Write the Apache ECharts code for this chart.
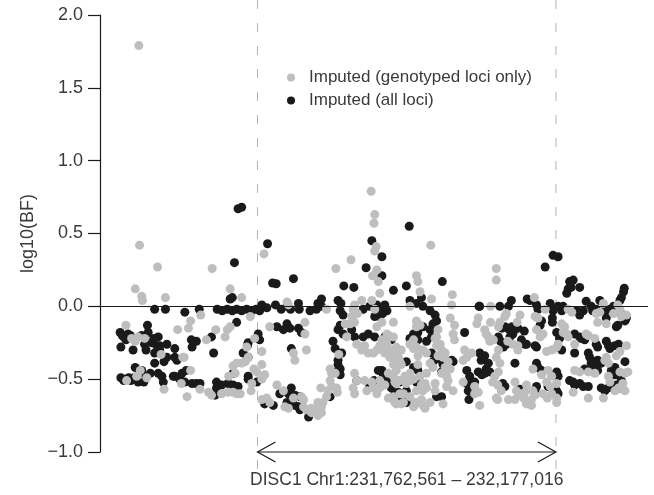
<!DOCTYPE html>
<html><head><meta charset="utf-8">
<script src="https://cdn.jsdelivr.net/npm/echarts@6/dist/echarts.min.js"></script>
<style>html,body{margin:0;padding:0;background:#fff}#c{width:654px;height:495px}</style>
</head><body><div id="c"></div>
<script>
// Position = kb from the start of the plotted window; value = log10(BF)
const genoName = 'Imputed (genotyped loci only)';
const allName = 'Imputed (all loci)';
const xMinKb = 0, xMaxKb = 762;
const yTicks = [-1.0, -0.5, 0.0, 0.5, 1.0, 1.5, 2.0];
const geneStartKb = 219, geneEndKb = 634;
const geneLabel = 'DISC1 Chr1:231,762,561 \u2013 232,177,016';

const genotyped = [
[54,1.79],[55,0.42],[80,0.27],[49,0.12],[58,0.07],[59,0.04],[91,0.06],[126,-0.10],[36,-0.13],[108,-0.16],[123,-0.15],[53,-0.21],[62,-0.22],[85,-0.33],[115,-0.35],[56,-0.44],[37,-0.51],[51,-0.48],[65,-0.49],[113,-0.53],[126,-0.44],[89,-0.57],[121,-0.62],[44,-0.22],[49,-0.24],
[156,0.26],[181,0.12],[197,0.06],[140,-0.06],[181,-0.14],[177,-0.16],[161,-0.16],[174,-0.21],[148,-0.23],[204,-0.28],[206,-0.35],[190,-0.39],[185,-0.41],[179,-0.48],[188,-0.46],[117,-0.35],[139,-0.57],[151,-0.59],[155,-0.61],[169,-0.60],[185,-0.59],[190,-0.60],[195,-0.60],
[228,0.36],[209,-0.07],[236,-0.14],[215,-0.22],[225,-0.31],[202,-0.38],[197,-0.39],[225,-0.40],[214,-0.43],[218,-0.45],[229,-0.47],[211,-0.53],[225,-0.50],[210,-0.58],[178,-0.59],[246,-0.54],[255,-0.58],[225,-0.64],[232,-0.63],[236,-0.66],[257,-0.69],
[377,0.79],[382,0.63],[381,0.57],[384,0.41],[460,0.42],[349,0.32],[328,0.26],[379,0.21],[260,0.03],[262,0.01],[315,-0.02],[354,0.01],[352,-0.02],[364,0.04],[358,-0.05],[350,-0.07],[378,0.04],[382,-0.02],[341,-0.12],[348,-0.12],[354,-0.11],[285,-0.11],[285,-0.19],[343,-0.21],[357,-0.26],[368,-0.27],[364,-0.30],[373,-0.32],[380,-0.32],[269,-0.32],[271,-0.37],[287,-0.30],[332,-0.33],[320,-0.43],[322,-0.46],[327,-0.46],[354,-0.46],[357,-0.51],[352,-0.56],[354,-0.60],[368,-0.51],[371,-0.58],[378,-0.52],[380,-0.56],[320,-0.51],[322,-0.55],[317,-0.58],[315,-0.62],[310,-0.66],[308,-0.69],[306,-0.71],[329,-0.56],[330,-0.59],[307,-0.56],[269,-0.63],[280,-0.62],[283,-0.64],[262,-0.70],[283,-0.69],[287,-0.71],[294,-0.70],[301,-0.71],[294,-0.73],[303,-0.75],[308,-0.73],[303,-0.66],
[382,0.38],[385,0.25],[387,0.17],[440,0.21],[442,0.17],[389,0.09],[445,0.10],[461,0.05],[490,0.08],[489,0.01],[543,0.00],[551,0.26],[431,0.00],
[470,-0.16],[468,-0.21],[473,-0.26],[475,-0.30],[477,-0.35],[480,-0.42],[475,-0.46],[482,-0.48],[440,-0.10],[445,-0.13],[436,-0.23],[440,-0.28],[449,-0.30],[454,-0.32],[459,-0.39],[463,-0.42],[454,-0.46],[445,-0.48],[452,-0.53],[440,-0.58],[449,-0.58],[431,-0.46],[426,-0.53],[422,-0.60],[431,-0.62],[442,-0.66],[449,-0.68],[459,-0.66],[466,-0.58],[482,-0.55],[405,-0.35],[408,-0.40],[412,-0.44],[419,-0.40],[392,-0.23],[399,-0.26],[403,-0.30],[408,-0.32],[394,-0.30],[412,-0.28],[399,-0.19],[403,-0.21],[385,-0.14],[392,-0.11],[408,-0.11],[412,-0.53],[417,-0.60],[408,-0.62],[412,-0.67],[422,-0.66],
[487,-0.08],[493,-0.13],[491,-0.19],[493,-0.23],[505,-0.37],[505,-0.52],[484,-0.51],[491,-0.58],[477,-0.67],[410,-0.66],[419,-0.67],[438,-0.66],[447,-0.64],[389,-0.51],[385,-0.60],[442,-0.34],[442,-0.40],[431,-0.26],[436,-0.29],[440,-0.14],[442,-0.12],[466,-0.22],[468,-0.27],[470,-0.34],[480,-0.32],[484,-0.38],[487,-0.43],[389,-0.27],[385,-0.30],[396,-0.32],[403,-0.35],[410,-0.32],[415,-0.35],[419,-0.30],[417,-0.38],[401,-0.20],[408,-0.21],
[401,-0.46],[408,-0.48],[410,-0.52],[417,-0.51],[424,-0.48],[431,-0.51],[436,-0.50],[447,-0.54],[454,-0.56],[466,-0.53],[396,-0.54],[389,-0.56],[401,-0.63],[408,-0.64],[436,-0.69],[452,-0.70],
[551,0.18],[604,0.06],[619,-0.02],[565,-0.05],[563,-0.07],[584,-0.06],[580,-0.11],[526,-0.08],[524,-0.12],[543,-0.11],[556,-0.11],[554,-0.14],[605,-0.07],[609,-0.08],[607,-0.16],[612,-0.21],[616,-0.19],[535,-0.16],[540,-0.21],[542,-0.24],[547,-0.23],[537,-0.19],[567,-0.24],[574,-0.26],[581,-0.27],[581,-0.30],[507,-0.30],[510,-0.35],[517,-0.32],[554,-0.30],[551,-0.35],[556,-0.39],[554,-0.45],[549,-0.48],[621,-0.31],[628,-0.30],[602,-0.43],[614,-0.47],[623,-0.44],[628,-0.48],[621,-0.52],[626,-0.55],[521,-0.55],[526,-0.59],[521,-0.60],[528,-0.68],[546,-0.52],[553,-0.54],[558,-0.58],[551,-0.63],[553,-0.64],[577,-0.52],[579,-0.58],[584,-0.60],[591,-0.59],[593,-0.54],[589,-0.63],[593,-0.67],[600,-0.68],[600,-0.64],[605,-0.61],[602,-0.58],[616,-0.60],[622,-0.63],[628,-0.60],[577,-0.64],[568,-0.64],
[700,0.02],[720,0.01],[723,-0.02],[651,-0.02],[656,-0.04],[690,-0.05],[695,-0.04],[714,-0.05],[725,-0.07],[732,-0.06],[692,-0.11],[704,-0.12],[642,-0.12],[646,-0.14],[649,-0.19],[651,-0.21],[644,-0.18],[637,-0.26],[635,-0.28],[660,-0.26],[676,-0.19],[679,-0.20],[688,-0.22],[732,-0.27],[723,-0.31],[718,-0.34],[704,-0.35],[702,-0.37],[707,-0.39],[660,-0.44],[667,-0.45],[679,-0.45],[688,-0.46],[723,-0.45],[730,-0.46],[734,-0.45],[707,-0.48],[709,-0.52],[727,-0.53],[730,-0.58],[716,-0.58],[721,-0.56],[658,-0.59],[679,-0.63],[700,-0.63],[635,-0.53],[635,-0.63],[635,-0.66]
];

const allLoci = [
[192,0.67],[197,0.68],[233,0.43],[187,0.30],[240,0.16],[245,0.155],[181,0.05],[184,0.06],[76,-0.02],[91,-0.02],[118,-0.04],[138,-0.02],
[163,-0.02],[170,-0.03],[177,-0.02],[184,-0.03],[190,-0.02],[197,-0.03],[204,-0.02],[211,-0.03],[217,-0.02],[222,-0.03],
[225,0.01],[232,-0.01],[244,0.01],[252,-0.02],[190,-0.11],[246,-0.14],[255,-0.16],[220,-0.19],[222,-0.23],[205,-0.27],[158,-0.32],[199,-0.32],[206,-0.35],[206,-0.50],[218,-0.52],[134,-0.53],[162,-0.52],[169,-0.54],[178,-0.53],[185,-0.54],[192,-0.55],[160,-0.61],[250,-0.60],[229,-0.67],[241,-0.68],
[28,-0.18],[33,-0.21],[39,-0.19],[29,-0.28],[66,-0.13],[46,-0.30],[67,-0.18],[81,-0.21],[72,-0.25],[83,-0.27],[64,-0.30],[76,-0.32],[93,-0.26],[76,-0.39],[89,-0.38],[104,-0.35],[107,-0.37],[104,-0.29],[49,-0.42],[58,-0.44],[70,-0.46],[81,-0.46],[86,-0.48],[29,-0.49],[33,-0.51],[43,-0.51],[53,-0.52],[47,-0.49],[88,-0.52],[104,-0.48],[114,-0.46],[118,-0.52],[128,-0.53],[120,-0.44],[127,-0.23],[134,-0.24],[155,-0.21],[206,-0.25],[206,-0.48],[102,-0.48],[111,-0.50],[139,-0.53],[185,-0.46],[162,-0.56],[83,-0.30],[93,-0.35],[128,-0.28],
[31,-0.20],[36,-0.23],[42,-0.20],[58,-0.20],[62,-0.26],[75,-0.22],[79,-0.27],[35,-0.50],[40,-0.49],[61,-0.52],[64,-0.48],
[378,0.45],[430,0.55],[370,0.265],[269,0.19],[339,0.14],[353,0.13],[276,0.02],[277,-0.02],[265,-0.02],[260,0.00],[292,-0.03],[301,-0.02],[308,0.00],[308,0.05],[303,0.02],[331,0.04],[335,0.02],[334,-0.03],[366,-0.02],[375,0.00],[380,0.01],[338,-0.06],[334,-0.13],[260,-0.12],[264,-0.15],[276,-0.15],[280,-0.18],[331,-0.16],[338,-0.19],[350,-0.16],[354,-0.21],[366,-0.21],[373,-0.19],[324,-0.24],[327,-0.29],[266,-0.29],[336,-0.32],[331,-0.37],[331,-0.40],[334,-0.43],[329,-0.45],[334,-0.47],[357,-0.51],[375,-0.55],[381,-0.51],[320,-0.62],[266,-0.56],[262,-0.60],[271,-0.61],[278,-0.62],[260,-0.66],[264,-0.67],[271,-0.68],[276,-0.69],[278,-0.71],[290,-0.76],[303,-0.71],[306,-0.70],
[392,0.34],[392,0.21],[408,0.11],[426,0.14],[476,0.17],[527,0.00],
[385,0.01],[390,-0.02],[396,0.01],[399,-0.03],[382,-0.07],[389,-0.07],[393,-0.05],
[431,0.04],[440,0.02],[449,0.00],[459,-0.03],[466,-0.06],[468,-0.10],[463,-0.12],[436,-0.19],[442,-0.18],[449,-0.14],[459,-0.16],[461,-0.21],[454,-0.24],[461,-0.32],[468,-0.36],[475,-0.37],[436,-0.42],[442,-0.44],[440,-0.52],[426,-0.66],[438,-0.67],[468,-0.62],[475,-0.62],[392,-0.44],[394,-0.47],[401,-0.48],[408,-0.50],[417,-0.52],[419,-0.63],[447,0.06],[403,-0.21],[405,-0.23],[396,-0.21],[382,-0.21],[431,-0.22],[442,-0.23],[463,-0.38],[477,-0.40],[475,-0.45],[489,-0.37],[491,-0.38],[412,-0.62],[387,-0.44],[426,-0.38],[401,-0.51],[405,-0.56],[410,-0.60],[415,-0.59],[426,-0.58],
[630,0.35],[619,0.27],[572,0.04],[594,0.05],[598,0.04],[528,0.00],[556,0.00],[568,0.00],[607,0.01],[609,-0.02],[626,0.02],[630,-0.03],[507,-0.18],[614,-0.10],[612,-0.13],[629,-0.08],[629,-0.11],[559,-0.15],[563,-0.14],[569,-0.16],[573,-0.14],[577,-0.16],[581,-0.15],[590,-0.17],[586,-0.23],[591,-0.26],[605,-0.27],[607,-0.28],[554,-0.21],[557,-0.24],[561,-0.28],[565,-0.26],[570,-0.21],[574,-0.19],[593,-0.26],[528,-0.32],[535,-0.34],[530,-0.37],[540,-0.39],[537,-0.43],[542,-0.45],[535,-0.46],[577,-0.39],[607,-0.39],[609,-0.42],[614,-0.44],[623,-0.55],[510,-0.44],[514,-0.48],[517,-0.52],[510,-0.53],[521,-0.52],[512,-0.58],[513,-0.64],[526,-0.45],[531,-0.47],[560,-0.53],[563,-0.55],[584,-0.57],[586,-0.58],[605,-0.58],[607,-0.55],
[637,0.34],[653,0.17],[658,0.18],[655,0.13],[651,0.12],[649,0.09],[667,0.13],[729,0.125],[728,0.10],[725,0.06],[723,0.04],[676,0.035],[695,0.04],[637,0.00],[642,-0.03],[644,0.00],[663,-0.03],[667,-0.06],[672,-0.03],[683,0.00],[685,-0.03],[690,-0.02],[702,-0.03],[704,-0.08],[709,-0.02],[714,0.00],[723,-0.04],[727,-0.06],[730,-0.10],[732,-0.08],[718,-0.14],[720,-0.13],[635,-0.18],[639,-0.22],[642,-0.30],[660,-0.19],[667,-0.21],[669,-0.22],[674,-0.23],[690,-0.26],[692,-0.28],[704,-0.24],[707,-0.27],[709,-0.29],[716,-0.27],[721,-0.26],[660,-0.32],[679,-0.32],[681,-0.35],[683,-0.39],[692,-0.37],[697,-0.39],[730,-0.38],[674,-0.43],[683,-0.44],[688,-0.42],[692,-0.44],[711,-0.44],[716,-0.42],[716,-0.47],[723,-0.48],[725,-0.51],[653,-0.51],[658,-0.52],[660,-0.54],[667,-0.53],[672,-0.55],[679,-0.55],[697,-0.56],[702,-0.58],[707,-0.56],[718,-0.54],[723,-0.56],[635,-0.45],[637,-0.48],[635,-0.58],[637,-0.60]
];

const FONT = '"Liberation Sans", Arial, Helvetica, sans-serif';
const TXT = '#3a3a3a';
const GRAY = '#bebebe', BLACK = '#1a1a1a';
const chart = echarts.init(document.getElementById('c'), null, {renderer: 'canvas'});
chart.setOption({
  animation: false,
  grid: {left: 100, right: 6, top: 15, bottom: 43},
  xAxis: {type: 'value', min: xMinKb, max: xMaxKb, show: false},
  yAxis: {
    type: 'value', min: yTicks[0], max: yTicks[yTicks.length - 1], interval: 0.5,
    name: 'log10(BF)', nameLocation: 'middle', nameRotate: 90, nameGap: 63,
    nameTextStyle: {fontFamily: FONT, fontSize: 18, color: TXT},
    axisLine: {show: true, onZero: false, lineStyle: {color: BLACK, width: 1.2}},
    axisTick: {show: true, length: 12, lineStyle: {color: BLACK, width: 1.2}},
    axisLabel: {margin: 17, fontFamily: FONT, fontSize: 18, color: TXT,
      formatter: v => v.toFixed(1).replace('-', '\u2212')},
    splitLine: {show: false}
  },
  legend: {
    orient: 'vertical', left: 282, top: 64, itemWidth: 8, itemHeight: 8, itemGap: 6,
    selectedMode: false,
    data: [{name: genoName, icon: 'circle'}, {name: allName, icon: 'circle'}],
    textStyle: {fontFamily: FONT, fontSize: 17, color: TXT, padding: [0, 0, 0, 9]}
  },
  series: [
    {name: allName, type: 'scatter', data: allLoci, symbolSize: 9, silent: true,
     itemStyle: {color: BLACK, opacity: 1},
     markLine: {silent: true, symbol: 'none', label: {show: false},
       lineStyle: {color: BLACK, width: 1.2, type: 'solid'}, data: [{yAxis: 0}]}},
    {name: genoName, type: 'scatter', data: genotyped, symbolSize: 9, silent: true,
     itemStyle: {color: GRAY, opacity: 1}}
  ]
});

const xs = chart.convertToPixel({xAxisIndex: 0}, geneStartKb);
const xe = chart.convertToPixel({xAxisIndex: 0}, geneEndKb);
const ya = chart.convertToPixel({yAxisIndex: 0}, yTicks[0]);
const dash = {stroke: '#b4b4b4', lineWidth: 1, lineDash: [9, 14]};
const arrowStyle = {stroke: BLACK, lineWidth: 1.2, fill: null};
chart.setOption({graphic: [
  {type: 'line', z: 0, shape: {x1: xs, y1: 0, x2: xs, y2: 470}, style: dash, silent: true},
  {type: 'line', z: 0, shape: {x1: xe, y1: 0, x2: xe, y2: 470}, style: dash, silent: true},
  {type: 'line', shape: {x1: xs, y1: ya, x2: xe, y2: ya}, style: arrowStyle, silent: true},
  {type: 'polyline', shape: {points: [[xs + 18, ya - 10], [xs, ya], [xs + 18, ya + 10]]}, style: arrowStyle, silent: true},
  {type: 'polyline', shape: {points: [[xe - 18, ya - 10], [xe, ya], [xe - 18, ya + 10]]}, style: arrowStyle, silent: true},
  {type: 'text', x: (xs + xe) / 2, y: 480, silent: true,
   style: {text: geneLabel, fontFamily: FONT, fontSize: 17.5, fill: TXT, align: 'center', verticalAlign: 'middle'}}
]});
</script>
</body></html>
